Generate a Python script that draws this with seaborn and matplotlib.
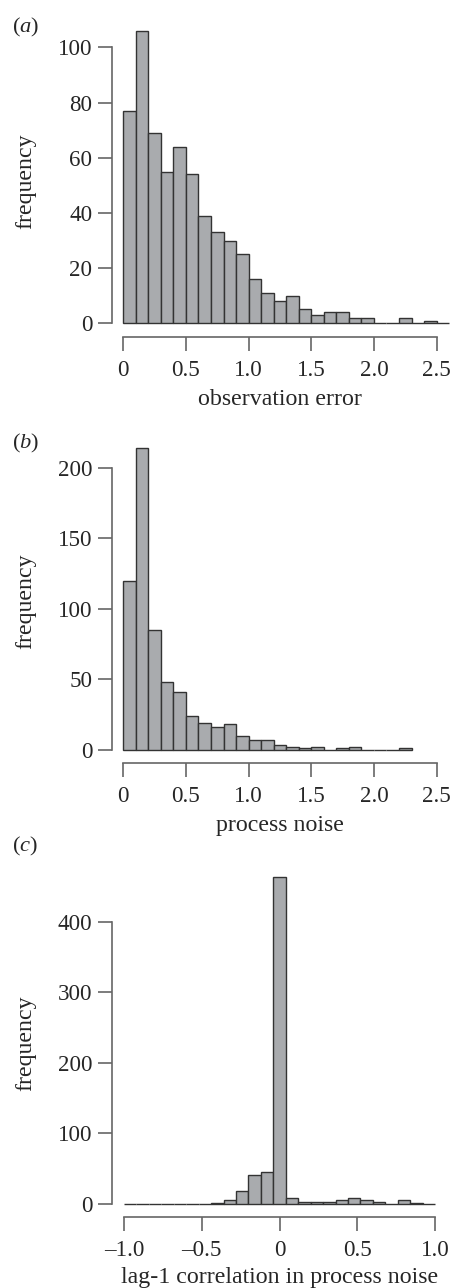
import numpy as np
import pandas as pd
import matplotlib
matplotlib.use("Agg")
import matplotlib.pyplot as plt
import seaborn as sns

# counts
obs_counts = [77, 106, 69, 55, 64, 54, 39, 33, 30, 25, 16, 11, 8, 10, 5, 3, 4, 4, 2, 2,
              0, 0, 2, 0, 1, 0]          # bins of 0.1 from 0 to 2.6
proc_counts = [120, 214, 85, 48, 41, 24, 19, 16, 18, 10, 7, 7, 3, 2, 1, 2, 0, 1, 2,
               0, 0, 0, 1]               # bins of 0.1 from 0 to 2.3
lag_counts = [0, 0, 0, 0, 0, 0, 0, 2, 5, 18, 41, 45, 464, 9, 3, 3, 3, 5, 9, 5, 3,
              0, 5, 1, 0]                # 25 bins from -1 to 1

obs_ticks = [0, 0.5, 1.0, 1.5, 2.0, 2.5]
obs_ticklabels = ["0", "0.5", "1.0", "1.5", "2.0", "2.5"]
lag_ticks = [-1.0, -0.5, 0, 0.5, 1.0]
lag_ticklabels = ["\u20131.0", "\u20130.5", "0", "0.5", "1.0"]

sns.set_style("ticks")
plt.rcParams['font.family'] = ['Liberation Serif', 'DejaVu Serif']
plt.rcParams['mathtext.fontset'] = 'custom'
plt.rcParams['mathtext.it'] = 'Liberation Serif:italic'
plt.rcParams['mathtext.rm'] = 'Liberation Serif'

W, H = 450, 1288
fig = plt.figure(figsize=(W / 100, H / 100), dpi=100)

FILL = "#a9abae"
EDGE = "#333333"
AXC = "#666666"
FS = 17.2
TFS = 16.6


def make_ax(top, bottom, left=111.7, right=450):
    return fig.add_axes([left / W, 1 - bottom / H, (right - left) / W, (bottom - top) / H])


def style(ax, xb, yb, xticks, xlabels, yticks, xlab, lab_top_px, panel_h):
    sns.despine(ax=ax)
    ax.spines['left'].set_bounds(*yb)
    ax.spines['bottom'].set_bounds(*xb)
    for s in ('left', 'bottom'):
        ax.spines[s].set_color(AXC)
        ax.spines[s].set_linewidth(1.2)
    ax.set_xticks(xticks)
    ax.set_xticklabels(xlabels)
    ax.set_yticks(yticks)
    ax.tick_params(direction='out', length=10, width=1.2, color=AXC,
                   labelsize=TFS)
    ax.tick_params(axis='x', pad=6.5)
    ax.tick_params(axis='y', pad=4)
    ax.set_ylabel("frequency", fontsize=FS)
    ax.yaxis.set_label_coords(-0.222, 0.5)
    ax.set_xlabel(xlab, fontsize=FS)
    ax.xaxis.set_label_coords(0.4975, -lab_top_px / panel_h)


def hist(ax, counts, edges):
    df = pd.DataFrame({"mid": (edges[:-1] + edges[1:]) / 2, "n": counts})
    sns.histplot(data=df, x="mid", weights="n", bins=list(edges), color=FILL, alpha=1,
                 edgecolor=EDGE, linewidth=1.0, ax=ax)


# (a) observation error
ax1 = make_ax(25, 336.7)
edges1 = np.round(np.arange(len(obs_counts) + 1) * 0.1, 2)
hist(ax1, obs_counts, edges1)
ax1.set_xlim(-0.0926, 2.607)
ax1.set_ylim(-4.86, 108.1)
style(ax1, (0, 2.5), (0, 100), obs_ticks, obs_ticklabels, [0, 20, 40, 60, 80, 100],
      "observation error", 52, 311.7)

# (b) process noise
ax2 = make_ax(440, 763)
edges2 = np.round(np.arange(len(proc_counts) + 1) * 0.1, 2)
hist(ax2, proc_counts, edges2)
ax2.set_xlim(-0.0926, 2.607)
ax2.set_ylim(-9.5, 219.8)
style(ax2, (0, 2.5), (0, 200), obs_ticks, obs_ticklabels, [0, 50, 100, 150, 200],
      "process noise", 52, 323)

# (c) lag-1 correlation
ax3 = make_ax(870, 1216.7)
edges3 = np.linspace(-1, 1, len(lag_counts) + 1)
hist(ax3, lag_counts, edges3)
ax3.set_xlim(-1.079, 1.096)
ax3.set_ylim(-18, 473.3)
style(ax3, (-1, 1), (0, 400), lag_ticks, lag_ticklabels, [0, 100, 200, 300, 400],
      "lag-1 correlation in process noise", 50, 346.7)

for y, letter in [(27, "a"), (443, "b"), (846, "c")]:
    fig.text(12 / W, 1 - y / H, "($\\mathit{%s}$)" % letter, fontsize=FS - 1,
             va='center', ha='left')

fig.savefig("out.png", dpi=100)
